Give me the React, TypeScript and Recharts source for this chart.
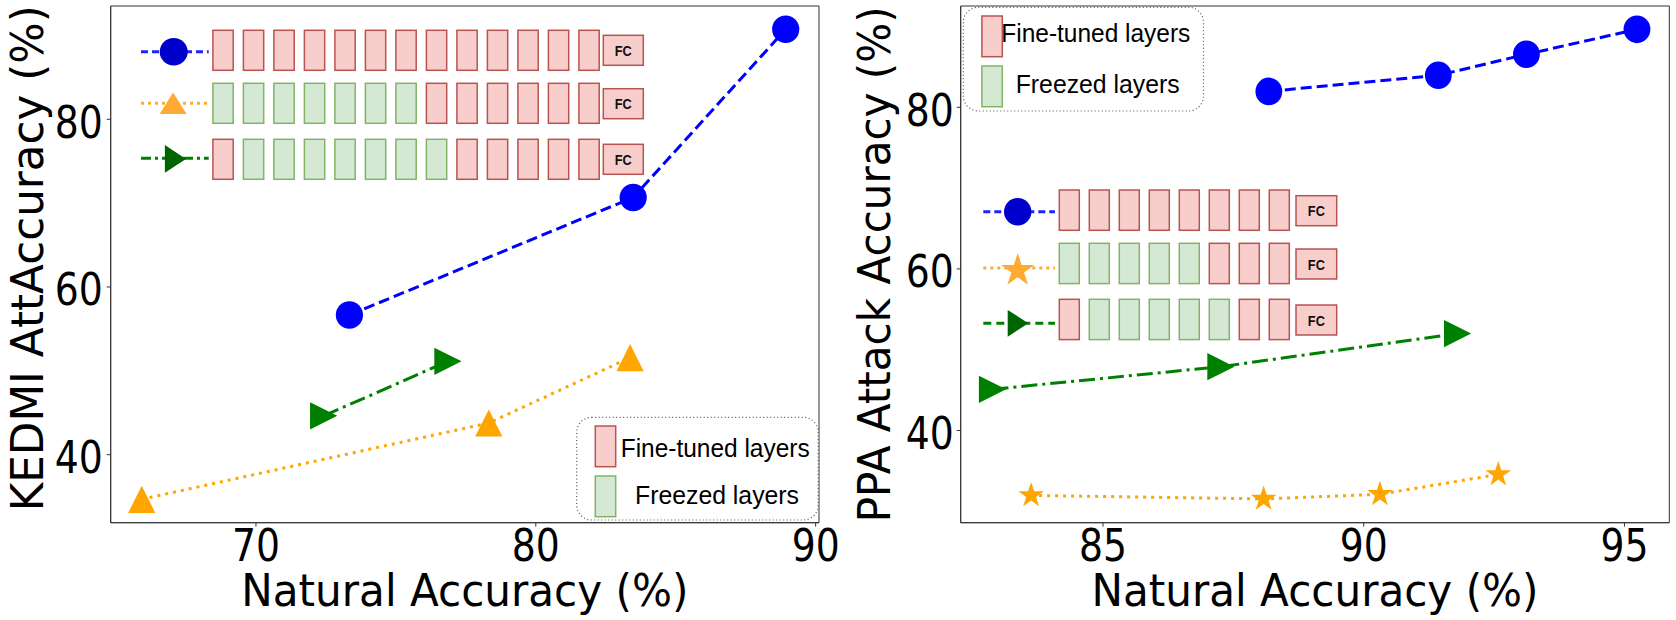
import React from 'react';
import { ScatterChart, Scatter, XAxis, YAxis, ReferenceArea } from 'recharts';

// KEDMI panel (left)
const kedmiAllX = [73.34, 83.48, 88.93];
const kedmiAllY = [56.66, 70.67, 90.73];
const kedmiHalfX = [65.92, 78.32, 83.37];
const kedmiHalfY = [34.68, 43.78, 51.57];
const kedmiMixX = [72.42, 76.86];
const kedmiMixY = [44.63, 51.14];

// PPA panel (right)
const ppaAllX = [88.18, 91.43, 93.12, 95.24];
const ppaAllY = [81.97, 83.97, 86.56, 89.65];
const ppaHalfX = [83.62, 88.08, 90.31, 92.58];
const ppaHalfY = [31.97, 31.53, 32.11, 34.56];
const ppaMixX = [82.88, 87.26, 91.8];
const ppaMixY = [45.1, 47.9, 52.0];

const kedmiXTicks = [70, 80, 90];
const kedmiYTicks = [40, 60, 80];
const ppaXTicks = [85, 90, 95];
const ppaYTicks = [40, 60, 80];

const kedmiXDomain = [64.81, 90.12];
const kedmiYDomain = [31.89, 93.51];
const ppaXDomain = [82.27, 95.86];
const ppaYDomain = [28.59, 92.54];

// layer diagrams: R = fine-tuned, G = freezed
const kedmiLayers = ['RRRRRRRRRRRRR', 'GGGGGGGRRRRRR', 'RGGGGGGGRRRRR'];
const ppaLayers = ['RRRRRRRR', 'GGGGGRRR', 'RGGGGGRR'];

const xTitle = 'Natural Accuracy (%)';
const kedmiYTitle = 'KEDMI AttAccuracy (%)';
const ppaYTitle = 'PPA Attack Accuracy (%)';

const FONT = '"DejaVu Sans", sans-serif';
const SANS = '"Liberation Sans", Arial, sans-serif';
const RED = { fill: '#f8cecc', stroke: '#b85450' };
const GREEN = { fill: '#d5e8d4', stroke: '#82b366' };

const zip = (xs: number[], ys: number[]) => xs.map((x, i) => ({ x, y: ys[i] }));

function Marker({ cx, cy, kind, color, w = 13.6, h = 13.6 }: any) {
  if (cx == null || cy == null) return null;
  if (kind === 'circle') return <ellipse cx={cx} cy={cy} rx={w} ry={h} fill={color} />;
  if (kind === 'up') {
    return <polygon points={`${cx},${cy - h} ${cx - w},${cy + h} ${cx + w},${cy + h}`} fill={color} />;
  }
  if (kind === 'right') {
    return <polygon points={`${cx + w},${cy} ${cx - w},${cy - h} ${cx - w},${cy + h}`} fill={color} />;
  }
  // star
  const pts: string[] = [];
  for (let i = 0; i < 10; i++) {
    const r = i % 2 === 0 ? w : w * 0.382;
    const a = -Math.PI / 2 + (i * Math.PI) / 5;
    pts.push(`${cx + r * Math.cos(a)},${cy + r * Math.sin(a)}`);
  }
  return <polygon points={pts.join(' ')} fill={color} />;
}

function CondensedTick(props: any) {
  const { x, y, payload, textAnchor, axis } = props;
  const label = String(payload.value);
  return (
    <text
      x={x}
      y={y}
      dy={axis === 'x' ? '0.71em' : '0.42em'}
      textAnchor={textAnchor}
      fontFamily={FONT}
      fontSize={44}
      fill="#000"
      textLength={label.length * 24}
      lengthAdjust="spacingAndGlyphs"
    >
      {label}
    </text>
  );
}

const xTitleLabel = (props: any) => {
  const vb = props.viewBox;
  return (
    <text x={vb.x + vb.width / 2} y={vb.y + 83} textAnchor="middle" fontFamily={FONT} fontSize={44}
      fill="#000" textLength={447} lengthAdjust="spacingAndGlyphs">
      {xTitle}
    </text>
  );
};

const yTitleLabel = (text: string, bx: number, len: number, shift: number) => (props: any) => {
  const vb = props.viewBox;
  const cx = vb.x + bx;
  const cy = vb.y + vb.height / 2 + shift;
  return (
    <text x={cx} y={cy} transform={`rotate(-90, ${cx}, ${cy})`} textAnchor="middle" fontFamily={FONT}
      fontSize={44} fill="#000" textLength={len} lengthAdjust="spacingAndGlyphs">
      {text}
    </text>
  );
};

const blueLine = { stroke: '#0000ff', strokeWidth: 3, strokeDasharray: '11 5' };
const orangeLine = { stroke: '#ffa500', strokeWidth: 3, strokeDasharray: '3 5' };
const greenLine = { stroke: '#008000', strokeWidth: 3, strokeDasharray: '16 5 3 5' };

function LayerRow({ x0, top, w, h, pitch, pattern, fcX, fcTop, fcW }: any) {
  return (
    <g>
      {pattern.split('').map((c: string, i: number) => (
        <rect key={i} x={x0 + i * pitch} y={top} width={w} height={h} {...(c === 'R' ? RED : GREEN)} strokeWidth={1.5} />
      ))}
      <rect x={fcX} y={fcTop} width={fcW} height={30} {...RED} strokeWidth={1.5} />
      <text x={fcX + fcW / 2} y={fcTop + 20.5} textAnchor="middle" fontFamily={SANS} fontWeight="bold"
        fontSize={15} fill="#111" textLength={17} lengthAdjust="spacingAndGlyphs">FC</text>
    </g>
  );
}

function BoxLegend({ x, y, w, h, textX1, textX2, base1, base2 }: any) {
  return (
    <g>
      <rect x={x} y={y} width={w} height={h} rx={15} ry={15} fill="#fff" stroke="#555" strokeWidth={1.2} strokeDasharray="1 2.5" />
      <rect x={x + 18.6} y={y + 8.7} width={20.4} height={40.7} {...RED} strokeWidth={1.5} />
      <rect x={x + 18.6} y={y + 58.7} width={20.4} height={40.7} {...GREEN} strokeWidth={1.5} />
      <text x={textX1} y={base1} fontFamily={SANS} fontSize={25} fill="#000" textLength={189} lengthAdjust="spacingAndGlyphs">Fine-tuned layers</text>
      <text x={textX2} y={base2} fontFamily={SANS} fontSize={25} fill="#000" textLength={164} lengthAdjust="spacingAndGlyphs">Freezed layers</text>
    </g>
  );
}

function Overlay() {
  return (
    <svg width={1676} height={620} style={{ position: 'absolute', left: 0, top: 0, pointerEvents: 'none' }}>
      {/* left panel: layer diagrams */}
      <line x1={141} x2={208.7} y1={51.7} y2={51.7} stroke="#2222ff" strokeWidth={3} strokeDasharray="7 4" />
      <Marker cx={173.7} cy={51.7} kind="circle" color="#0000cc" w={14} h={13.8} />
      <line x1={141} x2={208.7} y1={103.3} y2={103.3} stroke="#ffaa33" strokeWidth={3} strokeDasharray="3 4" />
      <Marker cx={173.1} cy={103.3} kind="up" color="#ffaa33" w={13.5} h={10.7} />
      <line x1={141} x2={208.7} y1={158.3} y2={158.3} stroke="#008000" strokeWidth={3} strokeDasharray="10 4 3 4" />
      <Marker cx={175.4} cy={158.9} kind="right" color="#006400" w={10.5} h={13.9} />
      {kedmiLayers.map((p, i) => (
        <LayerRow key={i} x0={212.9} top={[30.3, 83.3, 139.3][i]} w={20.3} h={40} pitch={30.5} pattern={p}
          fcX={603.3} fcTop={[35.3, 88.7, 144.3][i]} fcW={40} />
      ))}
      <BoxLegend x={576.7} y={417.3} w={241.5} h={102.7} textX1={620.7} textX2={635} base1={456.7} base2={504.3} />

      {/* right panel */}
      <BoxLegend x={963.3} y={7.3} w={240.2} h={103.7} textX1={1001.3} textX2={1015.7} base1={42.4} base2={92.6} />
      <line x1={983.3} x2={1055} y1={211.7} y2={211.7} stroke="#2222ff" strokeWidth={3} strokeDasharray="7 4" />
      <Marker cx={1017.7} cy={211.7} kind="circle" color="#0000cc" w={13.7} h={13.8} />
      <line x1={983.3} x2={1055} y1={268} y2={268} stroke="#ffaa33" strokeWidth={3} strokeDasharray="3 4" />
      <Marker cx={1017.7} cy={270.5} kind="star" color="#ffaa33" w={17.5} />
      <line x1={983.3} x2={1055} y1={323.3} y2={323.3} stroke="#008000" strokeWidth={3} strokeDasharray="8 5" />
      <Marker cx={1018} cy={323.3} kind="right" color="#006400" w={10.3} h={13.4} />
      {ppaLayers.map((p, i) => (
        <LayerRow key={i} x0={1059.3} top={[190, 243.3, 299.3][i]} w={20} h={40.3} pitch={30} pattern={p}
          fcX={1296} fcTop={[195.7, 249, 305][i]} fcW={40.7} />
      ))}
    </svg>
  );
}

export default function App() {
  const axisStroke = '#333';
  return (
    <div style={{ position: 'absolute', left: 0, top: 0, width: 1676, height: 620, background: '#fff' }}>
      <div style={{ position: 'absolute', left: 0, top: 0 }}>
        <ScatterChart width={840} height={620} margin={{ top: 6, right: 21, left: 0, bottom: 0 }}>
          <XAxis type="number" dataKey="x" domain={kedmiXDomain} ticks={kedmiXTicks} allowDataOverflow
            height={97.3} tickSize={4} tickMargin={3} stroke={axisStroke}
            tick={<CondensedTick axis="x" />} label={{ content: xTitleLabel }} />
          <YAxis type="number" dataKey="y" domain={kedmiYDomain} ticks={kedmiYTicks} allowDataOverflow
            width={110.7} tickSize={4} tickMargin={4} stroke={axisStroke}
            tick={<CondensedTick axis="y" />} label={{ content: yTitleLabel(kedmiYTitle, 43, 506, -6) }} />
          <ReferenceArea x1={kedmiXDomain[0]} x2={kedmiXDomain[1]} y1={kedmiYDomain[0]} y2={kedmiYDomain[1]}
            fill="none" stroke={axisStroke} strokeWidth={1} ifOverflow="visible" />
          <Scatter data={zip(kedmiAllX, kedmiAllY)} line={blueLine} lineType="joint" isAnimationActive={false}
            shape={(p: any) => <Marker {...p} kind="circle" color="#0000ff" w={13.6} h={13.8} />} />
          <Scatter data={zip(kedmiHalfX, kedmiHalfY)} line={orangeLine} lineType="joint" isAnimationActive={false}
            shape={(p: any) => <Marker {...p} kind="up" color="#ffa500" />} />
          <Scatter data={zip(kedmiMixX, kedmiMixY)} line={greenLine} lineType="joint" isAnimationActive={false}
            shape={(p: any) => <Marker {...p} kind="right" color="#008000" />} />
        </ScatterChart>
      </div>
      <div style={{ position: 'absolute', left: 840, top: 0 }}>
        <ScatterChart width={836} height={620} margin={{ top: 6, right: 6.7, left: 0, bottom: 0 }}>
          <XAxis type="number" dataKey="x" domain={ppaXDomain} ticks={ppaXTicks} allowDataOverflow
            height={97.3} tickSize={4} tickMargin={3} stroke={axisStroke}
            tick={<CondensedTick axis="x" />} label={{ content: xTitleLabel }} />
          <YAxis type="number" dataKey="y" domain={ppaYDomain} ticks={ppaYTicks} allowDataOverflow
            width={120.7} tickSize={4} tickMargin={3} stroke={axisStroke}
            tick={<CondensedTick axis="y" />} label={{ content: yTitleLabel(ppaYTitle, 50, 516, 0) }} />
          <ReferenceArea x1={ppaXDomain[0]} x2={ppaXDomain[1]} y1={ppaYDomain[0]} y2={ppaYDomain[1]}
            fill="none" stroke={axisStroke} strokeWidth={1} ifOverflow="visible" />
          <Scatter data={zip(ppaAllX, ppaAllY)} line={blueLine} lineType="joint" isAnimationActive={false}
            shape={(p: any) => <Marker {...p} kind="circle" color="#0000ff" w={13.4} h={13.8} />} />
          <Scatter data={zip(ppaHalfX, ppaHalfY)} line={orangeLine} lineType="joint" isAnimationActive={false}
            shape={(p: any) => <Marker {...p} kind="star" color="#ffa500" w={13.5} />} />
          <Scatter data={zip(ppaMixX, ppaMixY)} line={greenLine} lineType="joint" isAnimationActive={false}
            shape={(p: any) => <Marker {...p} kind="right" color="#008000" />} />
        </ScatterChart>
      </div>
      <Overlay />
    </div>
  );
}
